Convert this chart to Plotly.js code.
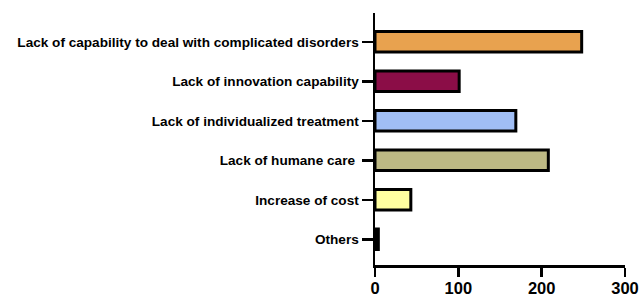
<!DOCTYPE html>
<html><head><meta charset="utf-8">
<script src="https://cdn.plot.ly/plotly-3.0.1.min.js"></script>
<style>body{margin:0;padding:0;background:#fff;}#chart{width:642px;height:300px;}</style>
</head><body><div id="chart"></div>
<script>
const categories = ["Others", "Increase of cost", "Lack of humane care\u00a0", "Lack of individualized treatment", "Lack of innovation capability", "Lack of capability to deal with complicated disorders"];
const values = [4, 43, 208, 169, 101, 248];
const colors = ["#000000", "#FFFFA0", "#BDB984", "#A0BEF5", "#8B0D47", "#E8A24F"];
const xTicks = [0, 100, 200, 300];

Plotly.newPlot('chart', [{
  type: 'bar', orientation: 'h',
  y: categories.map((c, i) => i), x: values,
  marker: {color: colors, line: {color: '#000', width: 3}},
  width: 0.52, hoverinfo: 'none'
}], {
  width: 642, height: 300,
  margin: {l: 375, r: 17, t: 13, b: 35},
  paper_bgcolor: '#fff', plot_bgcolor: '#fff',
  showlegend: false,
  font: {family: 'Liberation Sans, Arial, sans-serif', color: '#000'},
  xaxis: {range: [0, 300], tickvals: xTicks, ticktext: xTicks.map(String),
    showgrid: false, zeroline: false, showline: true, linecolor: '#000', linewidth: 2.5,
    ticks: 'outside', ticklen: 9, tickwidth: 2.5, tickcolor: '#000', ticklabelstandoff: -2,
    tickfont: {size: 16.5, weight: 'bold', family: 'Liberation Sans, Arial, sans-serif'}, fixedrange: true},
  yaxis: {range: [-0.65, 5.73], tickvals: categories.map((c, i) => i), ticktext: categories,
    showgrid: false, zeroline: false, showline: true, linecolor: '#000', linewidth: 2.5,
    ticks: 'outside', ticklen: 11, tickwidth: 2.5, tickcolor: '#000',
    tickfont: {size: 13.6, weight: 'bold', family: 'Liberation Sans, Arial, sans-serif'}, fixedrange: true}
}, {staticPlot: true, displayModeBar: false});
</script></body></html>
